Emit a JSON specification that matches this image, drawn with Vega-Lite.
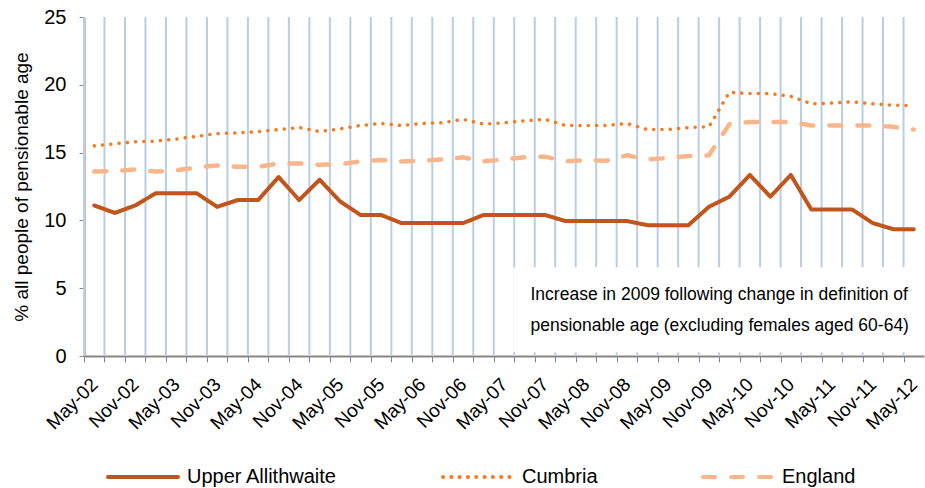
{
  "$schema": "https://vega.github.io/schema/vega-lite/v6.json",
  "width": 840,
  "height": 339,
  "padding": {"left": 12, "top": 7, "right": 2, "bottom": 5},
  "background": "white",
  "config": {"view": {"stroke": null}, "font": "Liberation Sans"},
  "data": {"values": [
    {"q": "May-02", "Upper Allithwaite": 11.1, "Cumbria": 15.5, "England": 13.6},
    {"q": "Aug-02", "Upper Allithwaite": 10.55, "Cumbria": 15.65, "England": 13.65},
    {"q": "Nov-02", "Upper Allithwaite": 11.1, "Cumbria": 15.8, "England": 13.75},
    {"q": "Feb-03", "Upper Allithwaite": 12.0, "Cumbria": 15.85, "England": 13.6},
    {"q": "May-03", "Upper Allithwaite": 12.0, "Cumbria": 16.0, "England": 13.7},
    {"q": "Aug-03", "Upper Allithwaite": 12.0, "Cumbria": 16.2, "England": 13.9},
    {"q": "Nov-03", "Upper Allithwaite": 11.0, "Cumbria": 16.4, "England": 14.05},
    {"q": "Feb-04", "Upper Allithwaite": 11.5, "Cumbria": 16.45, "England": 13.95},
    {"q": "May-04", "Upper Allithwaite": 11.5, "Cumbria": 16.55, "England": 13.95},
    {"q": "Aug-04", "Upper Allithwaite": 13.2, "Cumbria": 16.7, "England": 14.2},
    {"q": "Nov-04", "Upper Allithwaite": 11.5, "Cumbria": 16.85, "England": 14.2},
    {"q": "Feb-05", "Upper Allithwaite": 13.0, "Cumbria": 16.55, "England": 14.1},
    {"q": "May-05", "Upper Allithwaite": 11.4, "Cumbria": 16.75, "England": 14.15},
    {"q": "Aug-05", "Upper Allithwaite": 10.4, "Cumbria": 17.0, "England": 14.35},
    {"q": "Nov-05", "Upper Allithwaite": 10.4, "Cumbria": 17.15, "England": 14.45},
    {"q": "Feb-06", "Upper Allithwaite": 9.8, "Cumbria": 17.0, "England": 14.35},
    {"q": "May-06", "Upper Allithwaite": 9.8, "Cumbria": 17.15, "England": 14.4},
    {"q": "Aug-06", "Upper Allithwaite": 9.8, "Cumbria": 17.2, "England": 14.5},
    {"q": "Nov-06", "Upper Allithwaite": 9.8, "Cumbria": 17.45, "England": 14.65},
    {"q": "Feb-07", "Upper Allithwaite": 10.4, "Cumbria": 17.1, "England": 14.35},
    {"q": "May-07", "Upper Allithwaite": 10.4, "Cumbria": 17.2, "England": 14.5},
    {"q": "Aug-07", "Upper Allithwaite": 10.4, "Cumbria": 17.35, "England": 14.65},
    {"q": "Nov-07", "Upper Allithwaite": 10.4, "Cumbria": 17.45, "England": 14.7},
    {"q": "Feb-08", "Upper Allithwaite": 9.95, "Cumbria": 17.0, "England": 14.35},
    {"q": "May-08", "Upper Allithwaite": 9.95, "Cumbria": 17.0, "England": 14.45},
    {"q": "Aug-08", "Upper Allithwaite": 9.95, "Cumbria": 17.0, "England": 14.4},
    {"q": "Nov-08", "Upper Allithwaite": 9.95, "Cumbria": 17.15, "England": 14.8},
    {"q": "Feb-09", "Upper Allithwaite": 9.65, "Cumbria": 16.7, "England": 14.5},
    {"q": "May-09", "Upper Allithwaite": 9.65, "Cumbria": 16.7, "England": 14.6},
    {"q": "Aug-09", "Upper Allithwaite": 9.65, "Cumbria": 16.85, "England": 14.75},
    {"q": "Nov-09", "Upper Allithwaite": 11.0, "Cumbria": 16.9, "England": 14.8},
    {"q": "Feb-10", "Upper Allithwaite": 11.75, "Cumbria": 19.45, "England": 17.1},
    {"q": "May-10", "Upper Allithwaite": 13.35, "Cumbria": 19.35, "England": 17.25},
    {"q": "Aug-10", "Upper Allithwaite": 11.75, "Cumbria": 19.35, "England": 17.25},
    {"q": "Nov-10", "Upper Allithwaite": 13.35, "Cumbria": 19.15, "England": 17.25},
    {"q": "Feb-11", "Upper Allithwaite": 10.8, "Cumbria": 18.6, "England": 17.0},
    {"q": "May-11", "Upper Allithwaite": 10.8, "Cumbria": 18.65, "England": 17.0},
    {"q": "Aug-11", "Upper Allithwaite": 10.8, "Cumbria": 18.75, "England": 17.0},
    {"q": "Nov-11", "Upper Allithwaite": 9.8, "Cumbria": 18.6, "England": 17.0},
    {"q": "Feb-12", "Upper Allithwaite": 9.35, "Cumbria": 18.5, "England": 16.9},
    {"q": "May-12", "Upper Allithwaite": 9.35, "Cumbria": 18.45, "England": 16.7}
  ]},
  "transform": [
    {"fold": ["Upper Allithwaite", "Cumbria", "England"], "as": ["series", "value"]}
  ],
  "layer": [
    {
      "mark": {"type": "rule", "color": "#B9CDE5", "strokeWidth": 2},
      "transform": [{"filter": "datum.series == 'England'"}],
      "encoding": {
        "x": {"field": "q", "type": "ordinal", "bandPosition": 0},
        "y": {"datum": 0, "type": "quantitative"},
        "y2": {"datum": 25}
      }
    },
    {
      "mark": {"type": "rect", "color": "white", "stroke": "white", "strokeWidth": 2},
      "transform": [
        {"filter": "datum.series == 'England'"},
        {"filter": {"field": "q", "oneOf": ["Aug-07","Nov-07","Feb-08","May-08","Aug-08","Nov-08","Feb-09","May-09","Aug-09","Nov-09","Feb-10","May-10","Aug-10","Nov-10","Feb-11","May-11","Aug-11","Nov-11","Feb-12","May-12"]}}
      ],
      "encoding": {
        "x": {"field": "q", "type": "ordinal"},
        "y": {"datum": 6.45, "type": "quantitative"},
        "y2": {"datum": 0.35}
      }
    },
    {
      "data": {"values": [{"note": "text"}]},
      "mark": {"type": "text", "align": "left", "baseline": "middle", "fontSize": 17.5, "color": "#000000", "lineHeight": 31, "dx": 6,
        "text": ["Increase in 2009 following change in definition of", "pensionable age (excluding females aged 60-64)"]},
      "encoding": {
        "x": {"datum": "Aug-07", "type": "ordinal"},
        "y": {"datum": 4.48, "type": "quantitative"}
      }
    },
    {
      "mark": {"type": "line", "strokeWidth": 4.5, "strokeCap": "round", "strokeJoin": "round"},
      "transform": [{"filter": "datum.series == 'England'"}],
      "encoding": {
        "x": {
          "field": "q", "type": "ordinal",
          "scale": {"type": "band", "paddingInner": 0, "paddingOuter": 0,
            "domain": ["May-02","Aug-02","Nov-02","Feb-03","May-03","Aug-03","Nov-03","Feb-04","May-04","Aug-04","Nov-04","Feb-05","May-05","Aug-05","Nov-05","Feb-06","May-06","Aug-06","Nov-06","Feb-07","May-07","Aug-07","Nov-07","Feb-08","May-08","Aug-08","Nov-08","Feb-09","May-09","Aug-09","Nov-09","Feb-10","May-10","Aug-10","Nov-10","Feb-11","May-11","Aug-11","Nov-11","Feb-12","May-12"]},
          "axis": {
            "title": null, "grid": false,
            "tickOffset": -10.24, "labelOffset": 10.24,
            "tickSize": 6, "tickColor": "#868686",
            "domainColor": "#868686", "domainWidth": 2,
            "labelAngle": -45, "labelPadding": 19, "labelFontSize": 19, "labelColor": "#000000",
            "labelOverlap": false,
            "labelExpr": "indexof(datum.value, 'Feb') < 0 && indexof(datum.value, 'Aug') < 0 ? datum.label : ''"
          }
        },
        "y": {
          "field": "value", "type": "quantitative",
          "scale": {"domain": [0, 25], "nice": false},
          "axis": {
            "title": "% all people of pensionable age", "titleFontSize": 19,
            "titleFontWeight": "normal", "titleColor": "#000000", "titlePadding": 12,
            "values": [0, 5, 10, 15, 20, 25], "grid": false,
            "tickSize": 5, "tickColor": "#868686",
            "domainColor": "#868686", "domainWidth": 2,
            "labelFontSize": 20, "labelColor": "#000000", "labelPadding": 13
          }
        },
        "color": {"field": "series", "type": "nominal",
          "scale": {"domain": ["Upper Allithwaite", "Cumbria", "England"], "range": ["#C0561C", "#F47B20", "#F9B68A"]},
          "legend": {
            "title": null, "orient": "none", "legendX": 22, "legendY": 423, "direction": "horizontal",
            "symbolType": "stroke", "symbolSize": 4900, "symbolStrokeWidth": 4,
            "labelFontSize": 20, "labelColor": "#000000", "labelOffset": 7, "columnPadding": 97,
            "labelLimit": 300,
            "encode": {"symbols": {"update": {"strokeCap": {"value": "round"}}}}
          }
        },
        "strokeDash": {"field": "series", "type": "nominal",
          "scale": {"domain": ["Upper Allithwaite", "Cumbria", "England"], "range": [[1, 0], [0.1, 8.2], [12, 16]]}
        }
      }
    },
    {
      "mark": {"type": "line", "strokeWidth": 3.5, "strokeCap": "round", "strokeJoin": "round"},
      "transform": [{"filter": "datum.series == 'Cumbria'"}],
      "encoding": {
        "x": {"field": "q", "type": "ordinal"},
        "y": {"field": "value", "type": "quantitative"},
        "color": {"field": "series", "type": "nominal"},
        "strokeDash": {"field": "series", "type": "nominal"}
      }
    },
    {
      "mark": {"type": "line", "strokeWidth": 4, "strokeCap": "round", "strokeJoin": "round"},
      "transform": [{"filter": "datum.series == 'Upper Allithwaite'"}],
      "encoding": {
        "x": {"field": "q", "type": "ordinal"},
        "y": {"field": "value", "type": "quantitative"},
        "color": {"field": "series", "type": "nominal"},
        "strokeDash": {"field": "series", "type": "nominal"}
      }
    }
  ]
}
